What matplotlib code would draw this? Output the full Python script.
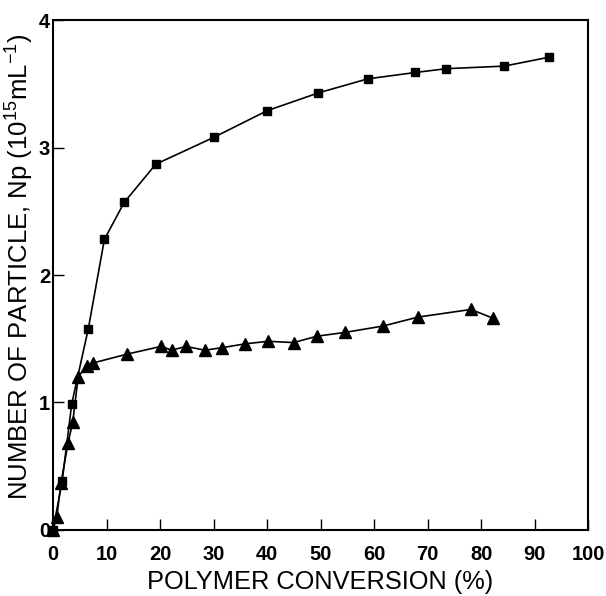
import matplotlib.pyplot as plt

plt.rcParams["font.family"] = ["Liberation Sans", "DejaVu Sans"]
plt.rcParams["mathtext.fontset"] = "custom"
plt.rcParams["mathtext.rm"] = "Liberation Sans"
plt.rcParams["mathtext.default"] = "regular"

# squares
conv_sq = [0, 1.7, 3.5, 6.6, 9.6, 13.3, 19.2, 30.0, 40.0, 49.6, 58.8, 67.7, 73.5, 84.3, 92.7]
np_sq = [0, 0.38, 0.99, 1.58, 2.28, 2.57, 2.87, 3.08, 3.29, 3.43, 3.54, 3.59, 3.62, 3.64, 3.71]

# triangles
conv_tri = [0, 0.7, 1.5, 2.8, 3.7, 4.7, 6.3, 7.5, 13.9, 20.2, 22.2, 24.8, 28.4, 31.6,
            35.9, 40.2, 45.0, 49.3, 54.6, 61.7, 68.2, 78.1, 82.3]
np_tri = [0, 0.1, 0.37, 0.68, 0.85, 1.2, 1.29, 1.31, 1.38, 1.44, 1.41, 1.44, 1.41, 1.43,
          1.46, 1.48, 1.47, 1.52, 1.55, 1.60, 1.67, 1.73, 1.66]

fig = plt.figure(figsize=(6.06, 5.96), dpi=100)
ax = fig.add_axes([0.0875, 0.111, 0.883, 0.855])

ax.plot(conv_sq, np_sq, color="black", lw=1.2, marker="s", ms=6, clip_on=False)
ax.plot(conv_tri, np_tri, color="black", lw=1.2, marker="^", ms=8, clip_on=False)

ax.set_xlim(0, 100)
ax.set_ylim(0, 4)
ax.set_xticks(range(0, 101, 10))
ax.set_yticks([0, 1, 2, 3, 4])
ax.tick_params(direction="in", length=8, width=1, labelsize=14.5)
ax.tick_params(axis="x", pad=11)
ax.tick_params(axis="y", pad=2)
for lab in ax.get_xticklabels() + ax.get_yticklabels():
    lab.set_fontweight("bold")
for s in ax.spines.values():
    s.set_linewidth(1.5)

ax.set_xlabel("POLYMER CONVERSION (%)", fontsize=18.3, labelpad=4)
ax.set_ylabel("NUMBER OF PARTICLE, Np (10$^{15}$mL$^{-1}$)", fontsize=18.5)
# label sits tight against the tick numbers, like the printed figure
ax.yaxis.set_label_coords(-0.031, 0.516)

fig.savefig("out.png", dpi=100)
